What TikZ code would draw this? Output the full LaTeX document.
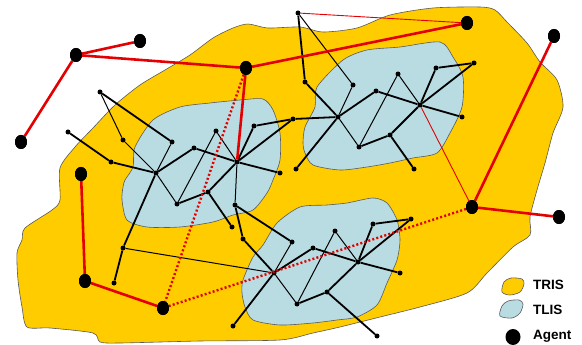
\documentclass[tikz,border=0pt]{standalone}
\usepackage{fontspec}
\setmainfont{Liberation Sans}
\usetikzlibrary{shapes.geometric}
\definecolor{tris}{RGB}{255,204,0}
\definecolor{tlis}{RGB}{184,220,226}
\definecolor{redl}{RGB}{228,0,0}
\definecolor{edge}{RGB}{90,90,90}
\tikzset{
  blob/.style={draw=edge,line width=0.6pt},
  dot/.style={circle,fill=black,inner sep=0pt,minimum size=5pt},
  agent/.style={ellipse,fill=black,inner sep=0pt,minimum width=12pt,minimum height=14pt},
  thk/.style={line width=1.8pt,black},
  thn/.style={line width=1.0pt,black},
  rthk/.style={line width=2.6pt,redl},
  rthn/.style={line width=0.9pt,redl},
  rdot/.style={line width=2.4pt,redl,dash pattern=on 2pt off 2.2pt},
  lab/.style={anchor=west,inner sep=0pt,font=\fontsize{13.5}{15}\selectfont\bfseries}
}
\begin{document}
\begin{tikzpicture}[x=1pt,y=-1pt]
\useasboundingbox (0,0) rectangle (582,345);
% TRIS region
\draw[blob,fill=tris] plot[smooth cycle,tension=0.45] coordinates {
(60,200) (60,168) (75,147) (93,128) (115,105) (140,85) (165,70) (190,55) (213,38) (233,28) (248,24) (268,28) (300,27) (323,32) (357,28) (390,15) (433,8) (480,7) (495,10) (507,22) (527,43) (540,62) (557,80) (563,107) (553,133) (545,163) (537,190) (530,217) (530,235) (513,247) (487,273) (467,293) (420,307) (380,317) (340,327) (313,333) (280,340) (200,341) (120,343) (100,342) (93,333) (50,328) (27,327) (22,307) (18,280) (17,253) (22,240) (25,228) (52,210)};
% TLIS regions
\draw[blob,fill=tlis] plot[smooth cycle,tension=0.45] coordinates {
(135,147) (153,120) (180,107) (210,103) (240,100) (263,99) (273,110) (280,133) (280,160) (273,180) (267,193) (253,210) (233,215) (213,222) (180,227) (147,227) (127,220) (122,200) (123,187) (125,180) (133,167)};
\draw[blob,fill=tlis] plot[smooth cycle,tension=0.45] coordinates {
(303,143) (305,127) (315,107) (317,87) (343,60) (367,50) (400,47) (440,42) (453,57) (463,77) (462,107) (450,133) (437,153) (413,158) (390,163) (367,167) (340,170) (313,165) (305,153)};
\draw[blob,fill=tlis] plot[smooth cycle,tension=0.45] coordinates {
(243,280) (253,257) (263,245) (277,223) (300,207) (327,205) (347,203) (373,198) (387,203) (397,220) (400,240) (397,260) (387,283) (377,305) (357,317) (337,320) (313,323) (280,325) (253,320) (245,307) (242,293)};
% small nodes
\foreach \n/\x/\y in {
 T1/100/92, a1/123/140, b1/172/142, c1/68/132, d1/111/162, A1/156/173, e1/194/148, B1/237/162, f1/280/173, g1/177/204, h1/216/131, i1/208/192, j1/232/227, k1/254/126, l1/293/119, m1/123/248, n1/114/283,
 T2/298/13, a2/305/82, b2/353/85, A2/338/117, e2/376/91, B2/420/105, f2/462/117, g2/359/147, h2/398/74, i2/390/135, j2/414/169, k2/436/68, l2/474/63, m2/296/169,
 A3/274/273, p3/235/205, q3/243/239, r3/292/242, e3/313/248, B3/358/262, f3/400/273, g3/297/304, h3/335/231, i3/327/292, j3/377/336, k3/373/224, l3/411/219, m3/233/326}
  \node[dot] (\n) at (\x,\y) {};
% agents
\foreach \n/\x/\y in {Ag1/76/55, Ag2/140/41, Ag3/21/142, Ag4/246/68, Ag5/467/23, Ag6/554/36, Ag7/472/207, Ag8/559/217, Ag9/81/174, Ag10/85/281, Ag11/163/308}
  \node[agent] (\n) at (\x,\y) {};
% black edges
\foreach \a/\b in {T1/b1, c1/d1, d1/A1, A1/e1, e1/B1, B1/f1, g1/i1, i1/B1, i1/j1, B1/k1, k1/l1, B1/l1, A1/m1, m1/n1,
  T2/a2, a2/A2, A2/e2, e2/B2, B2/f2, g2/i2, i2/B2, i2/j2, B2/k2, k2/l2, B2/l2, A2/m2, l1/A2,
  p3/q3, q3/A3, p3/r3, A3/e3, e3/B3, B3/f3, g3/i3, i3/B3, i3/j3, B3/k3, k3/l3, B3/l3, A3/m3}
  \draw[thk] (\a) -- (\b);
\foreach \a/\b in {T1/a1, a1/A1, b1/A1, A1/g1, g1/h1, h1/B1,
  T2/b2, b2/A2, A2/g2, g2/h2, h2/B2,
  B1/p3, r3/A3, A3/g3, g3/h3, h3/B3, m1/A3}
  \draw[thn] (\a) -- (\b);
% red links
\foreach \a/\b in {Ag1/Ag2, Ag1/Ag3, Ag1/Ag4, Ag4/Ag5, Ag4/B1, Ag6/Ag7, Ag7/Ag8, Ag9/Ag10, Ag10/Ag11}
  \draw[rthk] (\a) -- (\b);
\draw[rthn] (T2) -- (Ag5);
\draw[rthn] (B2) -- (Ag7);
\draw[rdot] (Ag4) -- (Ag11);
\draw[rdot] (Ag7) -- (Ag11);
% redraw agents on top
\foreach \n/\x/\y in {Ag1/76/55, Ag2/140/41, Ag3/21/142, Ag4/246/68, Ag5/467/23, Ag6/554/36, Ag7/472/207, Ag8/559/217, Ag9/81/174, Ag10/85/281, Ag11/163/308}
  \fill (\x,\y) ellipse [x radius=6pt, y radius=7pt];
% legend
\draw[blob,fill=tris] plot[smooth cycle,tension=0.5] coordinates {(502,292) (504,282) (511,278) (522,279) (524,284) (520,292) (510,295)};
\draw[blob,fill=tlis] plot[smooth cycle,tension=0.5] coordinates {(500,316) (502,306) (508,301) (519,300) (523,304) (520,313) (512,318)};
\node[agent,minimum width=15pt,minimum height=16pt] (legAg) at (513,337) {};
\node[lab] (legTRIS) at (533,285) {TRIS};
\node[lab] (legTLIS) at (533,310) {TLIS};
\node[lab] (legAgent) at (533,336) {Agent};
\end{tikzpicture}
\end{document}
